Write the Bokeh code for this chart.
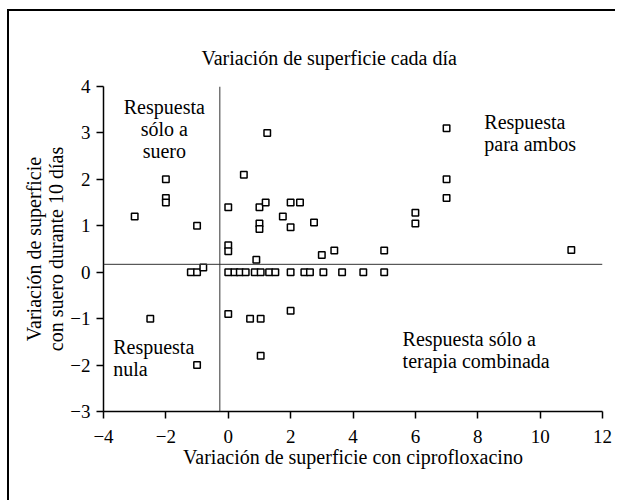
from bokeh.plotting import figure
from bokeh.models import Range1d, FixedTicker, Span, Label, ColumnDataSource, Title
from bokeh.embed import file_html
from bokeh.resources import INLINE

# ---- data ----
cipro = [-3.0, -2.0, -2.0, -2.0, -1.0, -1.2, -1.0, -0.8, -2.5, -1.0,
         0.0, 0.0, 0.0, 0.5, 1.25, 1.0, 1.2, 1.0, 1.0, 0.9, 1.75, 2.0, 2.3, 2.0,
         2.75, 3.0, 3.4, 5.0, 7.0, 7.0, 7.0, 6.0, 6.0, 11.0,
         0.0, 0.2, 0.37, 0.56, 0.85, 1.04, 1.31, 1.51, 2.0, 2.44, 2.62, 3.05,
         3.65, 4.33, 5.0,
         0.0, 0.7, 1.04, 2.0, 1.04]
suero = [1.2, 2.0, 1.6, 1.5, 1.0, 0.0, 0.0, 0.1, -1.0, -2.0,
         1.4, 0.58, 0.45, 2.1, 3.0, 1.4, 1.5, 1.05, 0.93, 0.27, 1.2, 1.5, 1.5, 0.97,
         1.07, 0.37, 0.47, 0.47, 3.1, 2.0, 1.6, 1.28, 1.05, 0.48,
         0.0, 0.0, 0.0, 0.0, 0.0, 0.0, 0.0, 0.0, 0.0, 0.0, 0.0, 0.0,
         0.0, 0.0, 0.0,
         -0.9, -1.0, -1.0, -0.83, -1.8]

cut_x = -0.27
cut_y = 0.17

x_ticks = [-4, -2, 0, 2, 4, 6, 8, 10, 12]
x_tick_labels = ["\u22124", "\u22122", "0", "2", "4", "6", "8", "10", "12"]
y_ticks = [-3, -2, -1, 0, 1, 2, 3, 4]
y_tick_labels = ["\u22123", "\u22122", "\u22121", "0", "1", "2", "3", "4"]

title_text = "Variación de superficie cada día"
x_label = "Variación de superficie con ciprofloxacino"
y_label = "Variación de superficie\ncon suero durante 10 días"
q_top_left = "Respuesta\nsólo a\nsuero"
q_top_right = "Respuesta\npara ambos"
q_bot_left = "Respuesta\nnula"
q_bot_right = "Respuesta sólo a\nterapia combinada"

FONT = "Liberation Serif"

p = figure(width=608, height=491, x_range=Range1d(-4, 12), y_range=Range1d(-3, 4),
           output_backend="svg", toolbar_location=None, title=None,
           min_border_left=94, min_border_right=15, min_border_top=75, min_border_bottom=91)
p.styles = {"margin-left": "9px", "margin-top": "11px",
            "box-shadow": "-2px -2px 0px 0px black"}
p.grid.visible = False
p.outline_line_color = None
p.background_fill_color = None
p.border_fill_color = None

for ax in (p.xaxis[0], p.yaxis[0]):
    ax.axis_line_color = "black"
    ax.axis_line_width = 1.5
    ax.major_tick_line_color = "black"
    ax.major_tick_line_width = 1.5
    ax.major_tick_out = 7
    ax.major_tick_in = 0
    ax.minor_tick_line_color = None
    ax.major_label_text_font = FONT
    ax.major_label_text_font_size = "19px"
    ax.major_label_text_color = "black"
    ax.axis_label_text_font = FONT
    ax.axis_label_text_font_size = "20px"
    ax.axis_label_text_font_style = "normal"
    ax.axis_label_text_color = "black"
    ax.axis_label_text_line_height = 1.0

p.xaxis.ticker = FixedTicker(ticks=x_ticks)
p.xaxis.major_label_overrides = dict(zip(x_ticks, x_tick_labels))
p.yaxis.ticker = FixedTicker(ticks=y_ticks)
p.yaxis.major_label_overrides = dict(zip(y_ticks, y_tick_labels))
p.xaxis.axis_label = x_label
p.yaxis.axis_label = y_label
p.xaxis.major_label_standoff = 11
p.yaxis.major_label_standoff = 6
p.xaxis.axis_label_standoff = 0
p.yaxis.axis_label_standoff = 0

t = Title(text=title_text, align="left", offset=98, standoff=36,
          text_font=FONT, text_font_size="20px", text_font_style="normal",
          text_color="black")
p.add_layout(t, "above")

p.add_layout(Span(location=cut_x, dimension="height", line_color="#333333", line_width=1))
p.add_layout(Span(location=cut_y, dimension="width", line_color="#333333", line_width=1))

src = ColumnDataSource(dict(x=cipro, y=suero))
p.scatter("x", "y", source=src, marker="square", size=6.5, line_color="black",
          line_width=1.5, fill_color="white")

def lab(x, y, text, align):
    p.add_layout(Label(x=x, y=y, text=text, text_align=align, text_baseline="top",
                       text_font=FONT, text_font_size="20px", text_color="black",
                       text_line_height=1.0))

lab(-2.05, 3.8, q_top_left, "center")
lab(8.21, 3.48, q_top_right, "left")
lab(-3.69, -1.38, q_bot_left, "left")
lab(5.59, -1.2, q_bot_right, "left")

open("out.html", "w").write(file_html(p, INLINE))
